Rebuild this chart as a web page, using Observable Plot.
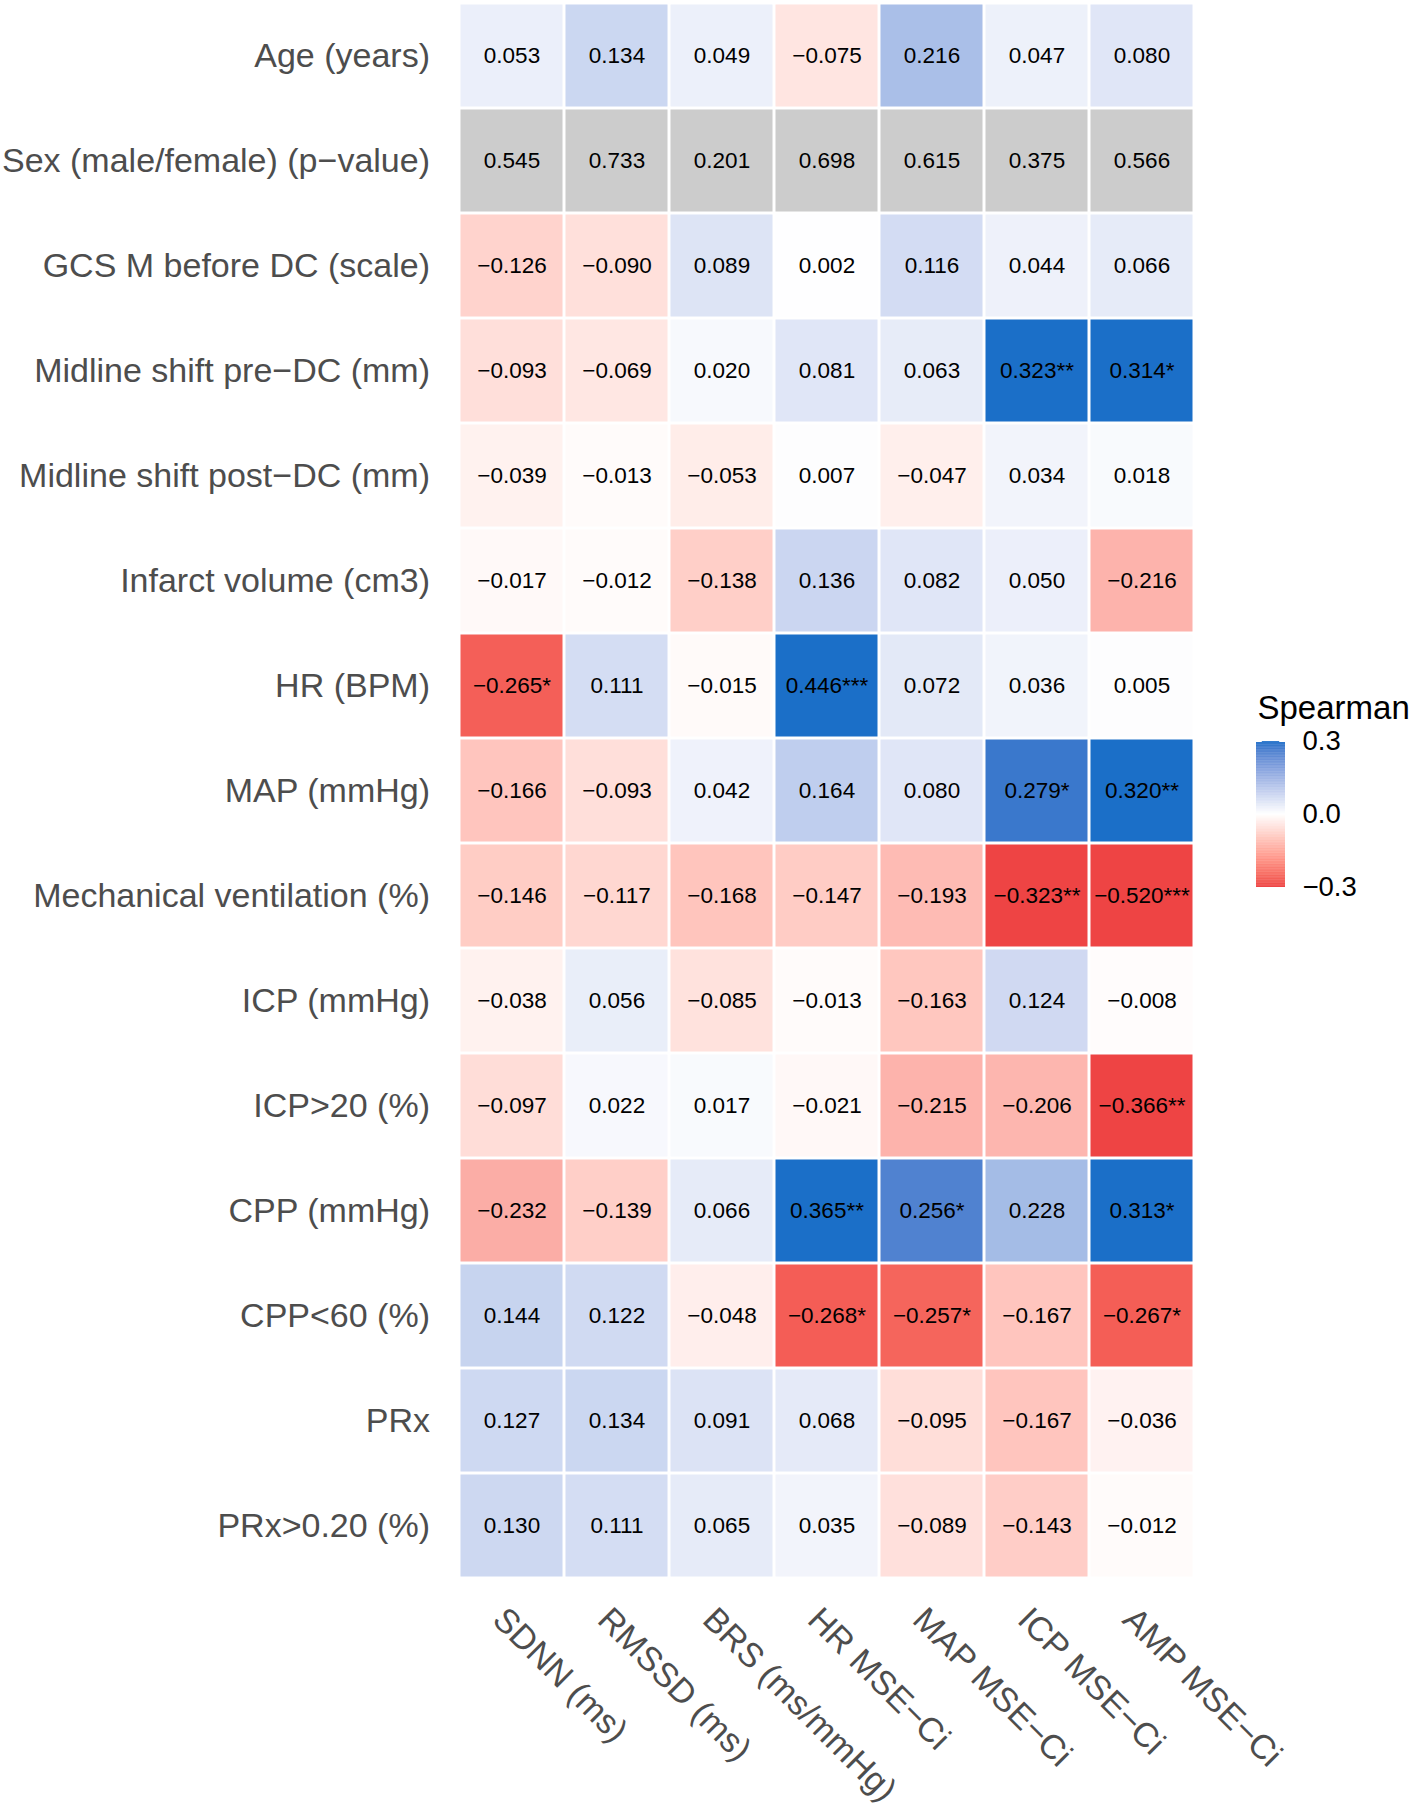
<!DOCTYPE html>
<html>
<head>
<meta charset="utf-8">
<script src="https://cdn.jsdelivr.net/npm/d3@7"></script>
<script src="https://cdn.jsdelivr.net/npm/@observablehq/plot@0.6"></script>
<style>
  html, body { margin: 0; padding: 0; background: #ffffff; }
  #wrap { position: relative; width: 1416px; height: 1808px; font-family: "Liberation Sans", Arial, Helvetica, sans-serif; }
  #legend { position: absolute; left: 1250px; top: 690px; }
</style>
</head>
<body>
<div id="wrap"><div id="main"></div><div id="legend"></div></div>
<script>
// ---- data ----
const columns = ["SDNN (ms)", "RMSSD (ms)", "BRS (ms/mmHg)", "HR MSE\u2212Ci", "MAP MSE\u2212Ci", "ICP MSE\u2212Ci", "AMP MSE\u2212Ci"];
const rowLabels = [
  "Age (years)",
  "Sex (male/female) (p\u2212value)",
  "GCS M before DC (scale)",
  "Midline shift pre\u2212DC (mm)",
  "Midline shift post\u2212DC (mm)",
  "Infarct volume (cm3)",
  "HR (BPM)",
  "MAP (mmHg)",
  "Mechanical ventilation (%)",
  "ICP (mmHg)",
  "ICP>20 (%)",
  "CPP (mmHg)",
  "CPP<60 (%)",
  "PRx",
  "PRx>0.20 (%)"
];
const pValueRow = "Sex (male/female) (p\u2212value)";

const age         = [0.053, 0.134, 0.049, -0.075, 0.216, 0.047, 0.080];
const sexP        = [0.545, 0.733, 0.201, 0.698, 0.615, 0.375, 0.566];
const gcsM        = [-0.126, -0.090, 0.089, 0.002, 0.116, 0.044, 0.066];
const midlinePre  = [-0.093, -0.069, 0.020, 0.081, 0.063, 0.323, 0.314];
const midlinePost = [-0.039, -0.013, -0.053, 0.007, -0.047, 0.034, 0.018];
const infarct     = [-0.017, -0.012, -0.138, 0.136, 0.082, 0.050, -0.216];
const hr          = [-0.265, 0.111, -0.015, 0.446, 0.072, 0.036, 0.005];
const map         = [-0.166, -0.093, 0.042, 0.164, 0.080, 0.279, 0.320];
const mechVent    = [-0.146, -0.117, -0.168, -0.147, -0.193, -0.323, -0.520];
const icp         = [-0.038, 0.056, -0.085, -0.013, -0.163, 0.124, -0.008];
const icp20       = [-0.097, 0.022, 0.017, -0.021, -0.215, -0.206, -0.366];
const cpp         = [-0.232, -0.139, 0.066, 0.365, 0.256, 0.228, 0.313];
const cpp60       = [0.144, 0.122, -0.048, -0.268, -0.257, -0.167, -0.267];
const prx         = [0.127, 0.134, 0.091, 0.068, -0.095, -0.167, -0.036];
const prx20       = [0.130, 0.111, 0.065, 0.035, -0.089, -0.143, -0.012];

const rowValues = [age, sexP, gcsM, midlinePre, midlinePost, infarct, hr, map, mechVent, icp, icp20, cpp, cpp60, prx, prx20];

const signif = [
  ["", "", "", "", "", "", ""],
  ["", "", "", "", "", "", ""],
  ["", "", "", "", "", "", ""],
  ["", "", "", "", "", "**", "*"],
  ["", "", "", "", "", "", ""],
  ["", "", "", "", "", "", ""],
  ["*", "", "", "***", "", "", ""],
  ["", "", "", "", "", "*", "**"],
  ["", "", "", "", "", "**", "***"],
  ["", "", "", "", "", "", ""],
  ["", "", "", "", "", "", "**"],
  ["", "", "", "**", "*", "", "*"],
  ["", "", "", "*", "*", "", "*"],
  ["", "", "", "", "", "", ""],
  ["", "", "", "", "", "", ""]
];

const legendTicks = [-0.3, 0, 0.3];

// ---- build table ----
const cells = [];
rowLabels.forEach((r, i) => columns.forEach((c, j) => {
  cells.push({row: r, col: c, value: rowValues[i][j], sig: signif[i][j]});
}));
const fmt = v => (v < 0 ? "\u2212" : "") + Math.abs(v).toFixed(3);
const fmt1 = v => (v < 0 ? "\u2212" : "") + Math.abs(v).toFixed(1);

const RED = "#EE4444", BLUE = "#1B6FC8";
const colorOpts = {type: "linear", domain: [-0.3, 0, 0.3], range: [RED, "#ffffff", BLUE], interpolate: d3.interpolateLab, clamp: true};
const FONT = "'Liberation Sans', Arial, Helvetica, sans-serif";

const pCells = cells.filter(d => d.row === pValueRow);
const rhoCells = cells.filter(d => d.row !== pValueRow);

const main = Plot.plot({
  width: 1416, height: 1808,
  marginLeft: 458.5, marginRight: 222, marginTop: 2, marginBottom: 230,
  x: {domain: columns, axis: null, padding: 0},
  y: {domain: rowLabels, axis: null, padding: 0},
  color: colorOpts,
  style: {fontFamily: FONT, background: "#ffffff"},
  marks: [
    Plot.cell(pCells, {x: "col", y: "row", fill: "#cccccc", inset: 1.5}),
    Plot.cell(rhoCells.filter(d => d.sig !== ""), {x: "col", y: "row", fill: "value", inset: 1.5}),
    Plot.cell(rhoCells.filter(d => d.sig === ""), {x: "col", y: "row", fill: "value", fillOpacity: 0.6, inset: 1.5}),
    Plot.text(cells, {x: "col", y: "row", text: d => fmt(d.value) + d.sig, fontSize: 22.5, fill: "#000000"}),
    Plot.text(rowLabels, {y: d => d, text: d => d, frameAnchor: "left", textAnchor: "end", dx: -29, fontSize: 34, fill: "#4d4d4d"}),
    Plot.text(columns, {x: d => d, text: d => d, frameAnchor: "bottom", rotate: 45, textAnchor: "start", lineAnchor: "bottom", dx: -21, dy: 43, fontSize: 34, fill: "#4d4d4d"})
  ]
});
document.getElementById("main").appendChild(main);

const step = 0.003;
const legendSteps = d3.range(-0.3, 0.3, step);
const legend = Plot.plot({
  width: 166, height: 220,
  marginLeft: 6, marginRight: 131, marginTop: 51, marginBottom: 23,
  x: {domain: [0, 1], axis: null},
  y: {domain: [-0.3, 0.3], axis: null},
  color: colorOpts,
  style: {fontFamily: FONT, background: "transparent", overflow: "visible"},
  marks: [
    Plot.rect(legendSteps, {x1: 0, x2: 1, y1: d => d, y2: d => Math.min(0.3, d + step * 1.5), fill: d => d + step / 2}),
    Plot.ruleY([-0.3, 0.3], {x1: 0, x2: 0.2, stroke: "#ffffff", strokeWidth: 1}),
    Plot.ruleY([-0.3, 0.3], {x1: 0.8, x2: 1, stroke: "#ffffff", strokeWidth: 1}),
    Plot.text(legendTicks, {y: d => d, text: d => fmt1(d), frameAnchor: "right", textAnchor: "start", dx: 17, fontSize: 27.5, fill: "#000000"}),
    Plot.text(["Spearman"], {text: d => d, frameAnchor: "top-left", textAnchor: "start", lineAnchor: "bottom", dx: 1, dy: -23, fontSize: 33, fill: "#000000"})
  ]
});
document.getElementById("legend").appendChild(legend);
</script>
</body>
</html>
